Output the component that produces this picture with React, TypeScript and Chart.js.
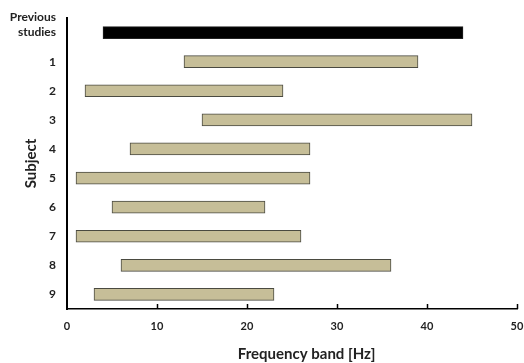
import React, { useEffect, useRef } from "react";
import { Chart, registerables } from "chart.js";

Chart.register(...registerables);

const categories: (string | string[])[] = [["Previous", "studies", ""], "1", "2", "3", "4", "5", "6", "7", "8", "9"];
const bandStart = [4, 13, 2, 15, 7, 1, 5, 1, 6, 3];
const bandEnd = [44, 39, 24, 45, 27, 27, 22, 26, 36, 23];
const xTicks = [0, 10, 20, 30, 40, 50];

const FONT = "Lato, 'Open Sans', sans-serif";

export default function App() {
  const ref = useRef<HTMLCanvasElement>(null);
  useEffect(() => {
    document.body.style.margin = "0";
    const innerTicks = {
      id: "innerTicks",
      afterDraw(chart: any) {
        const { ctx, scales } = chart;
        const x = scales.x;
        const bottom = chart.chartArea.bottom;
        ctx.save();
        ctx.strokeStyle = "#000";
        ctx.lineWidth = 1.5;
        xTicks.forEach((v) => {
          if (v === 0) return;
          const px = Math.round(x.getPixelForValue(v)) + 0.5;
          ctx.beginPath();
          ctx.moveTo(px, bottom);
          ctx.lineTo(px, bottom - 5);
          ctx.stroke();
        });
        ctx.restore();
      },
    };
    const chart = new Chart(ref.current!, {
      type: "bar",
      data: {
        labels: categories,
        datasets: [
          {
            data: bandStart.map((s, i) => [s, bandEnd[i]]),
            backgroundColor: bandStart.map((_, i) => (i === 0 ? "#000000" : "#C6BE98")),
            borderColor: bandStart.map((_, i) => (i === 0 ? "#222222" : "#4a4a40")),
            borderWidth: 1,
            borderSkipped: false,
            barThickness: 12,
          },
        ],
      },
      options: {
        indexAxis: "y",
        responsive: false,
        animation: false,
        layout: { padding: { left: 0, top: 18, right: 7, bottom: 0 } },
        plugins: { legend: { display: false }, tooltip: { enabled: false } },
        scales: {
          x: {
            min: 0,
            max: 50,
            afterBuildTicks(scale: any) {
              scale.ticks = xTicks.map((v) => ({ value: v }));
            },
            afterFit(scale: any) {
              scale.height = 54;
              scale.paddingLeft = 0;
              scale.paddingRight = 0;
            },
            grid: { drawOnChartArea: false, drawTicks: false },
            border: { display: true, color: "#000", width: 1.5 },
            ticks: {
              padding: 11,
              color: "#222",
              font: { family: FONT, size: 11, weight: "bold" },
            },
            title: {
              display: true,
              text: "        Frequency band [Hz]",
              color: "#222",
              padding: { top: 0, bottom: 0 },
              font: { family: FONT, size: 15, weight: "bold" },
            },
          },
          y: {
            afterFit(scale: any) {
              scale.width = 67;
              scale.paddingTop = 0;
              scale.paddingBottom = 0;
            },
            grid: { drawOnChartArea: false, drawTicks: false },
            border: { display: true, color: "#000", width: 2 },
            ticks: {
              autoSkip: false,
              padding: 11,
              color: "#222",
              font: { family: FONT, size: 12, weight: "bold", lineHeight: 1.25 },
            },
            title: {
              display: true,
              text: "Subject",
              color: "#222",
              padding: { top: 22, bottom: 0 },
              font: { family: FONT, size: 15, weight: "bold" },
            },
          },
        },
      },
      plugins: [innerTicks],
    } as any);
    return () => chart.destroy();
  }, []);
  return (
    <div style={{ width: 524, height: 363 }}>
      <canvas ref={ref} width={524} height={363} />
    </div>
  );
}
